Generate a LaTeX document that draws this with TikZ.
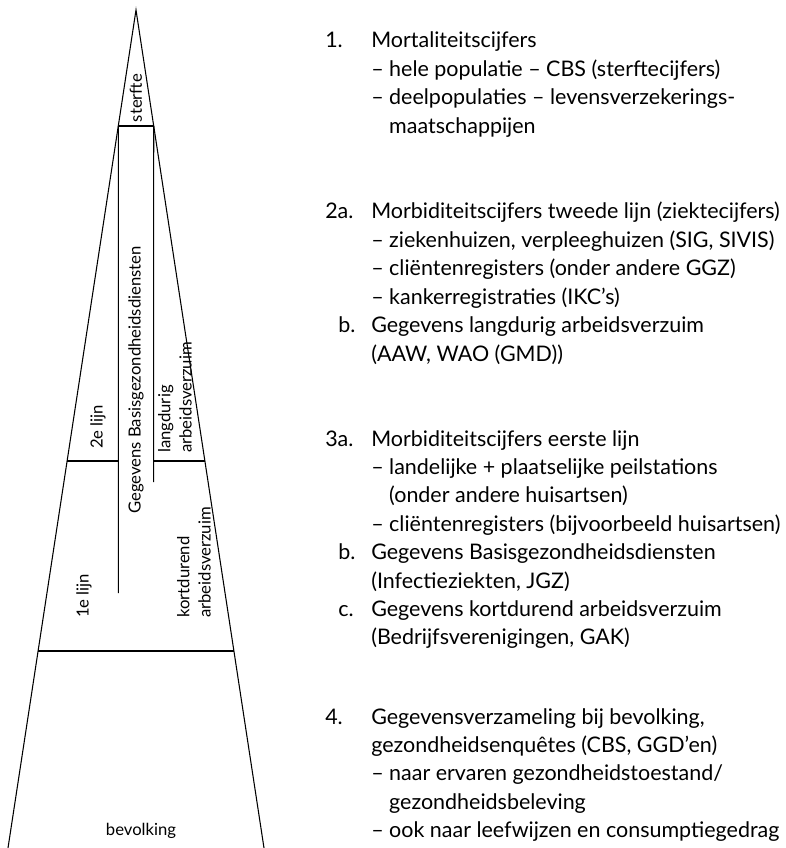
\documentclass[tikz,border=0pt]{standalone}
\usepackage{fontspec}
\setmainfont{Lato}
\usetikzlibrary{calc}

\begin{document}
\begin{tikzpicture}[x=0.75pt,y=-0.75pt]
  \tikzset{pyrline/.style={draw=black,line width=0.8pt}}
  \tikzset{layerlabel/.style={font=\fontsize{12.5}{16}\selectfont,inner sep=0pt,align=left}}
  \tikzset{uplabel/.style={layerlabel,rotate=90}}
  \tikzset{itemtext/.style={font=\fontsize{16.1}{19}\selectfont,inner sep=0pt,anchor=base west}}
  \useasboundingbox (0,0) rectangle (785,848);
  % pyramid
  \coordinate (apex) at (136,10);
  \coordinate (baseL) at (8,848);
  \coordinate (baseR) at (264,848);
  \coordinate (sterfteL) at ($(apex)!0.1384!(baseL)$);
  \coordinate (sterfteR) at ($(apex)!0.1384!(baseR)$);
  \coordinate (lijnL) at ($(apex)!0.5382!(baseL)$);
  \coordinate (lijnR) at ($(apex)!0.5382!(baseR)$);
  \coordinate (bevL) at ($(apex)!0.7649!(baseL)$);
  \coordinate (bevR) at ($(apex)!0.7649!(baseR)$);
  \coordinate (lijnML) at (sterfteL |- lijnL);
  \coordinate (lijnMR) at (sterfteR |- lijnR);
  \coordinate (gbdEnd) at (118.3,593);
  \coordinate (langEnd) at (153.7,482);
  \draw[pyrline] (baseL) -- (apex) -- (baseR);
  \draw[pyrline] (sterfteL) -- (sterfteR);
  \draw[pyrline] (sterfteL) -- (gbdEnd);
  \draw[pyrline] (sterfteR) -- (langEnd);
  \draw[pyrline] (lijnL) -- (lijnML);
  \draw[pyrline] (lijnMR) -- (lijnR);
  \draw[pyrline] (bevL) -- (bevR);
  \node[uplabel] (sterfte) at (136,98) {sterfte};
  \node[uplabel] (gbd) at (136,380) {Gegevens Basisgezondheidsdiensten};
  \node[uplabel] (tweede) at (98,427) {2e lijn};
  \node[uplabel,anchor=west] (langdurig) at (175,453) {langdurig\\arbeidsverzuim};
  \node[uplabel,anchor=west] (eerste) at (84,618) {1e lijn};
  \node[uplabel,anchor=west] (kortdurend) at (194,618) {kortdurend\\arbeidsverzuim};
  \node[layerlabel,anchor=base] (bevolking) at (141,835) {bevolking};
  % list on the right
  \node[itemtext] (num1) at (325,48) {1.};
  \node[itemtext] (t1) at (371,48) {Mortaliteitscijfers};
  \node[itemtext] (t1a) at (371,76.4) {– hele populatie – CBS (sterftecijfers)};
  \node[itemtext] (t1b) at (371,104.8) {– deelpopulaties – levensverzekerings-};
  \node[itemtext] (t1c) at (371,133.2) {\phantom{– }maatschappijen};
  \node[itemtext] (num2a) at (325,219) {2a.};
  \node[itemtext] (t2a) at (371,219) {Morbiditeitscijfers tweede lijn (ziektecijfers)};
  \node[itemtext] (t2aa) at (371,247.4) {– ziekenhuizen, verpleeghuizen (SIG, SIVIS)};
  \node[itemtext] (t2ab) at (371,275.8) {– cliëntenregisters (onder andere GGZ)};
  \node[itemtext] (t2ac) at (371,304.2) {– kankerregistraties (IKC’s)};
  \node[itemtext] (num2b) at (338,332.6) {b.};
  \node[itemtext] (t2b) at (371,332.6) {Gegevens langdurig arbeidsverzuim};
  \node[itemtext] (t2ba) at (371,361) {(AAW, WAO (GMD))};
  \node[itemtext] (num3a) at (325,446) {3a.};
  \node[itemtext] (t3a) at (371,446) {Morbiditeitscijfers eerste lijn};
  \node[itemtext] (t3aa) at (371,474.4) {– landelijke + plaatselijke peilstations};
  \node[itemtext] (t3ab) at (371,502.8) {\phantom{– }(onder andere huisartsen)};
  \node[itemtext] (t3ac) at (371,531.2) {– cliëntenregisters (bijvoorbeeld huisartsen)};
  \node[itemtext] (num3b) at (338,559.6) {b.};
  \node[itemtext] (t3b) at (371,559.6) {Gegevens Basisgezondheidsdiensten};
  \node[itemtext] (t3ba) at (371,588) {(Infectieziekten, JGZ)};
  \node[itemtext] (num3c) at (338,616.4) {c.};
  \node[itemtext] (t3c) at (371,616.4) {Gegevens kortdurend arbeidsverzuim};
  \node[itemtext] (t3ca) at (371,644.8) {(Bedrijfsverenigingen, GAK)};
  \node[itemtext] (num4) at (325,724) {4.};
  \node[itemtext] (t4) at (371,724) {Gegevensverzameling bij bevolking,};
  \node[itemtext] (t4a) at (371,752.4) {gezondheidsenquêtes (CBS, GGD’en)};
  \node[itemtext] (t4b) at (371,780.8) {– naar ervaren gezondheidstoestand/};
  \node[itemtext] (t4c) at (371,809.2) {\phantom{– }gezondheidsbeleving};
  \node[itemtext] (t4d) at (371,837.6) {– ook naar leefwijzen en consumptiegedrag};
\end{tikzpicture}
\end{document}
